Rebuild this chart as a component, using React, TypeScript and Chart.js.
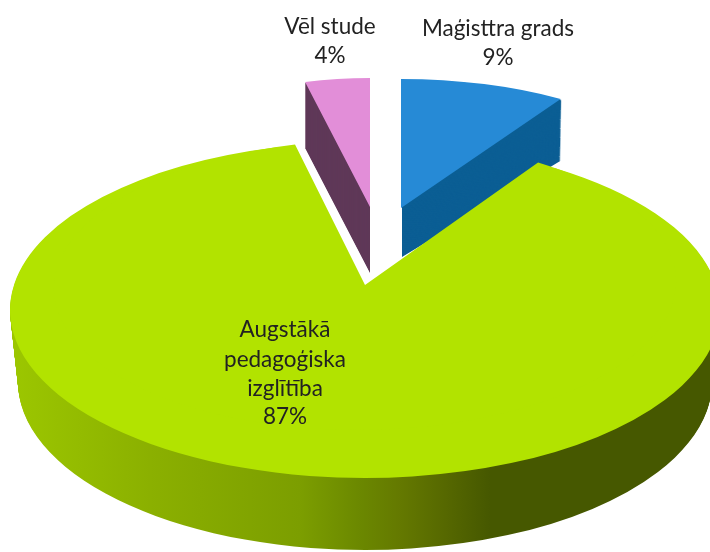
import { useEffect, useRef } from "react";
import { Chart, registerables } from "chart.js";

Chart.register(...registerables);

const categories = ["Maģisttra grads", "Augstākā pedagoģiska izglītība", "Vēl stude"];
const shares = [9, 87, 4];
const topColours = ["#268ad6", "#b2e300", "#e28ed8"];
const sideColours = ["#0b5e94", "#7a9a00", "#5f3858"];
const labelLines = [["Maģisttra grads", "9%"], ["Augstākā", "pedagoģiska", "izglītība", "87%"], ["Vēl stude", "4%"]];
const labelCentres = [[498, [29, 58]], [285, [330, 360, 389, 417]], [330, [27, 56]]] as const;

const FONT = '22.5px Lato, "Open Sans", sans-serif';

type Pose = { cx: number; cy: number; rx: number; ry: number; shear?: number };

function drawArc(ctx: CanvasRenderingContext2D, arc: any, p: Pose, fill?: any) {
  const saved = arc.options;
  if (fill) arc.options = { ...saved, backgroundColor: fill };
  const R = arc.outerRadius;
  ctx.save();
  ctx.translate(p.cx, p.cy);
  ctx.transform(p.rx / R, 0, (p.shear || 0) / R, p.ry / R, 0, 0);
  ctx.translate(-arc.x, -arc.y);
  arc.draw(ctx);
  ctx.restore();
  arc.options = saved;
}

function sideGradient(ctx: CanvasRenderingContext2D, arc: any, p: Pose) {
  // the gradient lives in the arc's own space; convert page x to it
  const sx = p.rx / arc.outerRadius;
  const toLocal = (x: number) => (x - p.cx) / sx + arc.x;
  const g = ctx.createLinearGradient(toLocal(10), 0, toLocal(710), 0);
  const stops: [number, string][] = [
    [10, "#9cc700"], [150, "#8bb000"], [300, "#7c9e00"], [360, "#6b8800"], [400, "#647900"], [445, "#566800"], [490, "#465800"], [710, "#465800"],
  ];
  stops.forEach(([x, c]) => g.addColorStop((x - 10) / 700, c));
  return g;
}

const threeD = {
  id: "threeD",
  beforeDatasetDraw: () => false,
  afterDatasetsDraw(chart: any) {
    const ctx: CanvasRenderingContext2D = chart.ctx;
    const [blue, green, pink] = chart.getDatasetMeta(0).data as any[];

    // blue: side then top
    for (let d = 60; d >= 1; d--) {
      const t = d / 60;
      drawArc(ctx, blue, { cx: 402, cy: 208 + 49 * t, rx: 298 - 2 * t, ry: 129 - 15 * t }, sideColours[0]);
    }
    drawArc(ctx, blue, { cx: 401, cy: 208, rx: 298, ry: 129 });

    // pink: side then top
    for (let d = 66; d >= 1; d--) {
      drawArc(ctx, pink, { cx: 370, cy: 207 + d, rx: 261, ry: 129 }, sideColours[2]);
    }
    drawArc(ctx, pink, { cx: 370, cy: 207, rx: 261, ry: 129 });

    // green: rim then top; the rim's lower edge is a little narrower (perspective)
    const rim: Pose = { cx: 365, cy: 310, rx: 355, ry: 168 };
    const g = sideGradient(ctx, green, rim);
    for (let d = 72; d >= 1; d--) {
      const p = { ...rim, cy: rim.cy + d, rx: rim.rx - (8 * d) / 72 };
      drawArc(ctx, green, p, sideGradient(ctx, green, p));
    }
    void g;
    drawArc(ctx, green, rim);
    // near-apex part of the top: perspective puts the apex above the ellipse's centre
    drawArc(ctx, green, { cx: 365, cy: 285, rx: 311, ry: 145, shear: -7.6 });

    // labels
    ctx.save();
    ctx.font = FONT;
    ctx.fillStyle = "#222222";
    ctx.textAlign = "center";
    ctx.textBaseline = "middle";
    labelLines.forEach((lines, i) => {
      const [x, ys] = labelCentres[i];
      lines.forEach((line, j) => ctx.fillText(line, x as number, (ys as readonly number[])[j]));
    });
    ctx.restore();
  },
};

export default function App() {
  const ref = useRef<HTMLCanvasElement>(null);
  useEffect(() => {
    const chart = new Chart(ref.current!, {
      type: "pie",
      data: {
        labels: categories,
        datasets: [{ data: shares, backgroundColor: topColours, borderWidth: 0 }],
      },
      options: {
        animation: false,
        responsive: false,
        layout: { padding: 0 },
        plugins: { legend: { display: false }, tooltip: { enabled: false } },
      },
      plugins: [threeD as any],
    });
    return () => chart.destroy();
  }, []);
  return (
    <div style={{ position: "fixed", left: 0, top: 0, width: 710, height: 552, background: "#fff", overflow: "hidden" }}>
      <canvas ref={ref} width={710} height={552} style={{ display: "block" }} />
    </div>
  );
}
